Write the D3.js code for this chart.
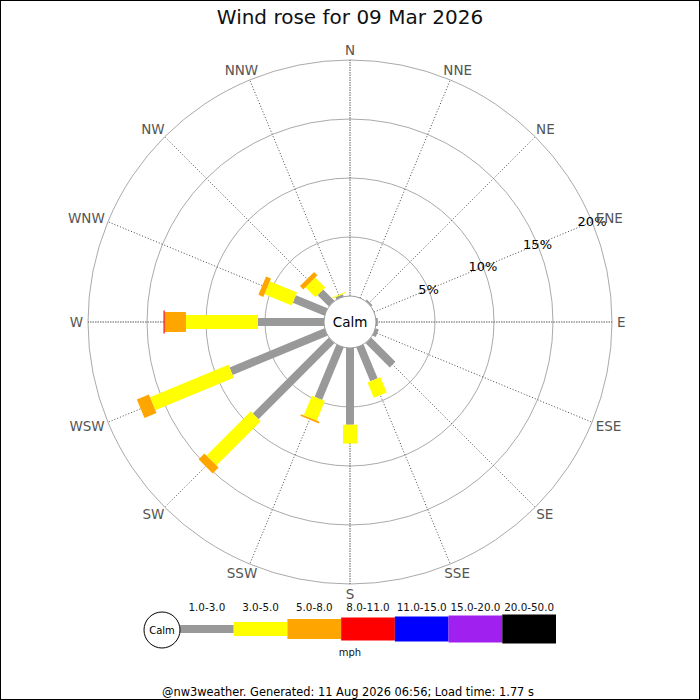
<!DOCTYPE html>
<html>
<head>
    <meta charset="utf-8">
    <title>Wind rose</title>
    <script src="https://cdnjs.cloudflare.com/ajax/libs/d3/7.8.5/d3.min.js"></script>
    <style>
        body {
            margin: 0;
            font-family: "DejaVu Sans", sans-serif;
        }
        svg {
            display: block;
        }
    </style>
</head>
<body>
    <svg id="rose" width="700" height="700"></svg>

    <script>
        // compass points, clockwise from north
        const directions = ["N", "NNE", "NE", "ENE", "E", "ESE", "SE", "SSE",
            "S", "SSW", "SW", "WSW", "W", "WNW", "NW", "NNW"];

        // speed bands (mph)
        const speedRanges = ["1.0-3.0", "3.0-5.0", "5.0-8.0", "8.0-11.0", "11.0-15.0", "15.0-20.0", "20.0-50.0"];

        // % of time per direction, one array per speed band
        const pct1to3 = [0, 0, 0.15, 0, 0.15, 0.3, 2.9, 3.1, 6.5, 4.8, 9.1, 8.7, 5.6, 2.9, 1.35, 0.2];
        const pct3to5 = [0, 0, 0, 0, 0, 0, 0, 1.4, 1.6, 1.8, 5.3, 7.2, 6.1, 2.5, 1.2, 0.1];
        const pct5to8 = [0, 0, 0, 0, 0, 0, 0, 0, 0, 0.15, 0.7, 1.1, 1.8, 0.45, 0.4, 0];
        const pct8to11 = [0, 0, 0, 0, 0, 0, 0, 0, 0, 0, 0, 0, 0.1, 0, 0, 0];
        const pct11to15 = [0, 0, 0, 0, 0, 0, 0, 0, 0, 0, 0, 0, 0, 0, 0, 0];
        const pct15to20 = [0, 0, 0, 0, 0, 0, 0, 0, 0, 0, 0, 0, 0, 0, 0, 0];
        const pct20to50 = [0, 0, 0, 0, 0, 0, 0, 0, 0, 0, 0, 0, 0, 0, 0, 0];

        const ringTicks = [5, 10, 15, 20];

        const series = [pct1to3, pct3to5, pct5to8, pct8to11, pct11to15, pct15to20, pct20to50];
        const bandColors = ["#999999", "#ffff00", "#ffa500", "#ff0000", "#0000ff", "#a020f0", "#000000"];
        const bandWidths = [8, 14, 20, 23, 25, 27, 29];

        const cx = 350, cy = 322, calmR = 26;

        const svg = d3.select("#rose");

        // frame
        svg.append("rect")
            .attr("x", 0.5).attr("y", 0.5)
            .attr("width", 699).attr("height", 699)
            .attr("fill", "white")
            .attr("stroke", "black");

        svg.append("text")
            .attr("x", 350).attr("y", 24)
            .attr("text-anchor", "middle")
            .style("font-size", "20px")
            .attr("fill", "#111")
            .text("Wind rose for 09 Mar 2026");

        const r = d3.scaleLinear().domain([0, 20]).range([calmR, 262]);
        const angle = d3.scaleLinear().domain([0, directions.length]).range([0, 360]);
        const rad = i => angle(i) * Math.PI / 180;

        const g = svg.append("g").attr("transform", `translate(${cx},${cy})`);

        // rings
        g.selectAll(".ring")
            .data(ringTicks)
            .join("circle")
            .attr("class", "ring")
            .attr("r", d => r(d))
            .attr("fill", "none")
            .attr("stroke", "#aaa");

        // spokes
        g.selectAll(".spoke")
            .data(directions)
            .join("line")
            .attr("class", "spoke")
            .attr("transform", (d, i) => `rotate(${angle(i)})`)
            .attr("y1", -r(0)).attr("y2", -r(20))
            .attr("stroke", "#333")
            .attr("stroke-width", 0.8)
            .attr("stroke-dasharray", (d, i) => i % 4 === 0 ? "1.5,1" : "1,2");

        // ring labels along ENE
        g.selectAll(".ringlabel")
            .data(ringTicks)
            .join("text")
            .attr("class", "ringlabel")
            .attr("x", d => Math.sin(rad(3)) * r(d))
            .attr("y", d => -Math.cos(rad(3)) * r(d))
            .attr("dy", "0.35em")
            .attr("text-anchor", "middle")
            .style("font-size", "13px")
            .attr("fill", "black")
            .text(d => d + "%");

        // stacked segments
        directions.forEach((dir, i) => {
            let cum = 0;
            const dg = g.append("g").attr("transform", `rotate(${angle(i)})`);
            series.forEach((vals, k) => {
                const v = vals[i];
                if (v > 0) {
                    dg.append("rect")
                        .attr("x", -bandWidths[k] / 2)
                        .attr("width", bandWidths[k])
                        .attr("y", -r(cum + v))
                        .attr("height", r(cum + v) - r(cum))
                        .attr("fill", bandColors[k]);
                }
                cum += v;
            });
        });

        // calm circle
        g.append("circle")
            .attr("r", calmR)
            .attr("fill", "white")
            .attr("stroke", "#999");
        g.append("text")
            .attr("dy", "0.35em")
            .attr("text-anchor", "middle")
            .style("font-size", "13.5px")
            .attr("fill", "black")
            .text("Calm");

        // compass labels, pushed out by half their box so they sit off the rim
        const labelR = 267;
        g.selectAll(".dirlabel")
            .data(directions)
            .join("text")
            .attr("class", "dirlabel")
            .attr("dy", "0.35em")
            .attr("text-anchor", "middle")
            .style("font-size", "13.5px")
            .attr("fill", "#555")
            .text(d => d)
            .each(function (d, i) {
                const w = this.getComputedTextLength();
                d3.select(this)
                    .attr("x", Math.sin(rad(i)) * (labelR + w / 2))
                    .attr("y", -Math.cos(rad(i)) * (labelR + 5));
            });

        // legend
        const lx = d3.scaleBand().domain(speedRanges).range([180, 556]);
        const ly = 629;
        const legend = svg.append("g");

        legend.selectAll(".key")
            .data(speedRanges)
            .join("rect")
            .attr("class", "key")
            .attr("x", d => lx(d))
            .attr("width", lx.bandwidth())
            .attr("y", (d, k) => ly - bandWidths[k] / 2)
            .attr("height", (d, k) => bandWidths[k])
            .attr("fill", (d, k) => bandColors[k]);

        legend.selectAll(".keylabel")
            .data(speedRanges)
            .join("text")
            .attr("class", "keylabel")
            .attr("x", d => lx(d) + lx.bandwidth() / 2)
            .attr("y", 611)
            .attr("text-anchor", "middle")
            .style("font-size", "10.4px")
            .attr("fill", "#111")
            .text(d => d);

        legend.append("circle")
            .attr("cx", 162).attr("cy", 630).attr("r", 18)
            .attr("fill", "white")
            .attr("stroke", "black");
        legend.append("text")
            .attr("x", 162).attr("y", 630)
            .attr("dy", "0.35em")
            .attr("text-anchor", "middle")
            .style("font-size", "10px")
            .text("Calm");

        legend.append("text")
            .attr("x", 350).attr("y", 656)
            .attr("text-anchor", "middle")
            .style("font-size", "10px")
            .attr("fill", "#111")
            .text("mph");

        svg.append("text")
            .attr("x", 348).attr("y", 696)
            .attr("text-anchor", "middle")
            .style("font-size", "11.4px")
            .attr("fill", "black")
            .text("@nw3weather. Generated: 11 Aug 2026 06:56; Load time: 1.77 s");
    </script>
</body>
</html>
